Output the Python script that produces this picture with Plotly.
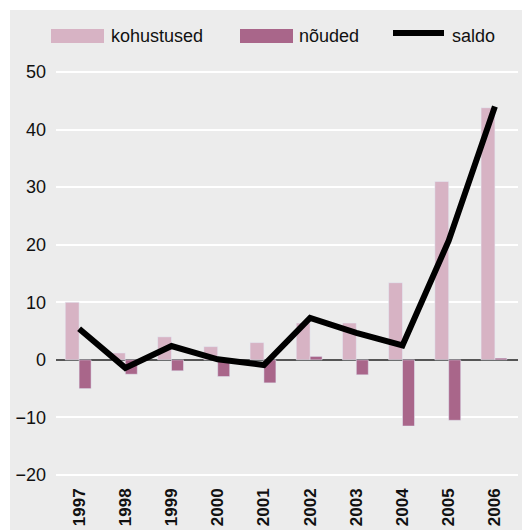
import plotly.graph_objects as go

years = ["1997", "1998", "1999", "2000", "2001", "2002", "2003", "2004", "2005", "2006"]
kohustused = [10.0, 1.2, 4.0, 2.3, 3.0, 6.4, 6.4, 13.4, 31.0, 43.8]
nouded = [-5.0, -2.5, -1.9, -2.9, -4.0, 0.6, -2.6, -11.5, -10.5, 0.3]
saldo = [5.4, -1.4, 2.4, 0.1, -0.9, 7.3, 4.7, 2.5, 20.7, 44.0]
series_names = ["kohustused", "nõuded", "saldo"]
y_ticks = [-20, -10, 0, 10, 20, 30, 40, 50]

C_K = "#d7b3c4"
C_N = "#a9668a"
BG = "#ececec"
FONT = "Liberation Sans, Arial, Helvetica, sans-serif"

fig = go.Figure()
fig.add_trace(go.Bar(x=years, y=kohustused, name=series_names[0], marker_color=C_K,
                     width=0.30, offset=-0.30, showlegend=False))
fig.add_trace(go.Bar(x=years, y=nouded, name=series_names[1], marker_color=C_N,
                     width=0.26, offset=0.0, showlegend=False))
fig.add_trace(go.Scatter(x=years, y=saldo, name=series_names[2], mode="lines",
                         line=dict(color="black", width=6), showlegend=False))

OFF = 8  # page body margin
W = H = 530
# plot area in screen pixels: x 56..518, y 60..482
L = 56 - OFF
T = 60 - OFF
R = W - (518 - OFF)
B = H - (482 - OFF)
pw = W - L - R
ph = H - T - B

def px_x(x):
    return (x - OFF - L) / pw

def px_y(y):
    return (H - B - (y - OFF)) / ph

shapes = [
    dict(type="rect", xref="paper", yref="paper", x0=px_x(10), x1=px_x(545),
         y0=px_y(545), y1=px_y(10), fillcolor=BG, line_width=0, layer="below"),
    dict(type="rect", xref="paper", yref="paper", x0=px_x(51), x1=px_x(104),
         y0=px_y(43), y1=px_y(29), fillcolor=C_K, line_width=0),
    dict(type="rect", xref="paper", yref="paper", x0=px_x(240), x1=px_x(293),
         y0=px_y(43), y1=px_y(29), fillcolor=C_N, line_width=0),
    dict(type="line", xref="paper", yref="paper", x0=px_x(393), x1=px_x(444),
         y0=px_y(33), y1=px_y(33), line=dict(color="black", width=6)),
]
annotations = []
for name, xpx in zip(series_names, [109, 297, 450]):
    annotations.append(dict(text=name, xref="paper", yref="paper", x=px_x(xpx), y=px_y(36),
                            xanchor="left", yanchor="middle", showarrow=False,
                            font=dict(family=FONT, size=18, color="#111")))

fig.update_layout(
    width=W, height=H,
    margin=dict(l=L, r=R, t=T, b=B, autoexpand=False),
    paper_bgcolor="white", plot_bgcolor=BG,
    barmode="overlay",
    shapes=shapes, annotations=annotations,
    font=dict(family=FONT, size=18, color="#111"),
)
fig.update_xaxes(type="category", tickangle=-90, showgrid=False, automargin=False,
                 tickfont=dict(family=FONT, size=17, weight="bold", color="#111"),
                 ticklabelstandoff=2, range=[-0.5, 9.5])
fig.update_yaxes(range=[-21.22, 52.09], tickvals=y_ticks, showgrid=True, automargin=False,
                 gridcolor="white", gridwidth=2, zeroline=True, zerolinecolor="#555",
                 zerolinewidth=1.5, ticklabelstandoff=9,
                 tickfont=dict(family=FONT, size=18, color="#111"))

fig.write_html("out.html")
